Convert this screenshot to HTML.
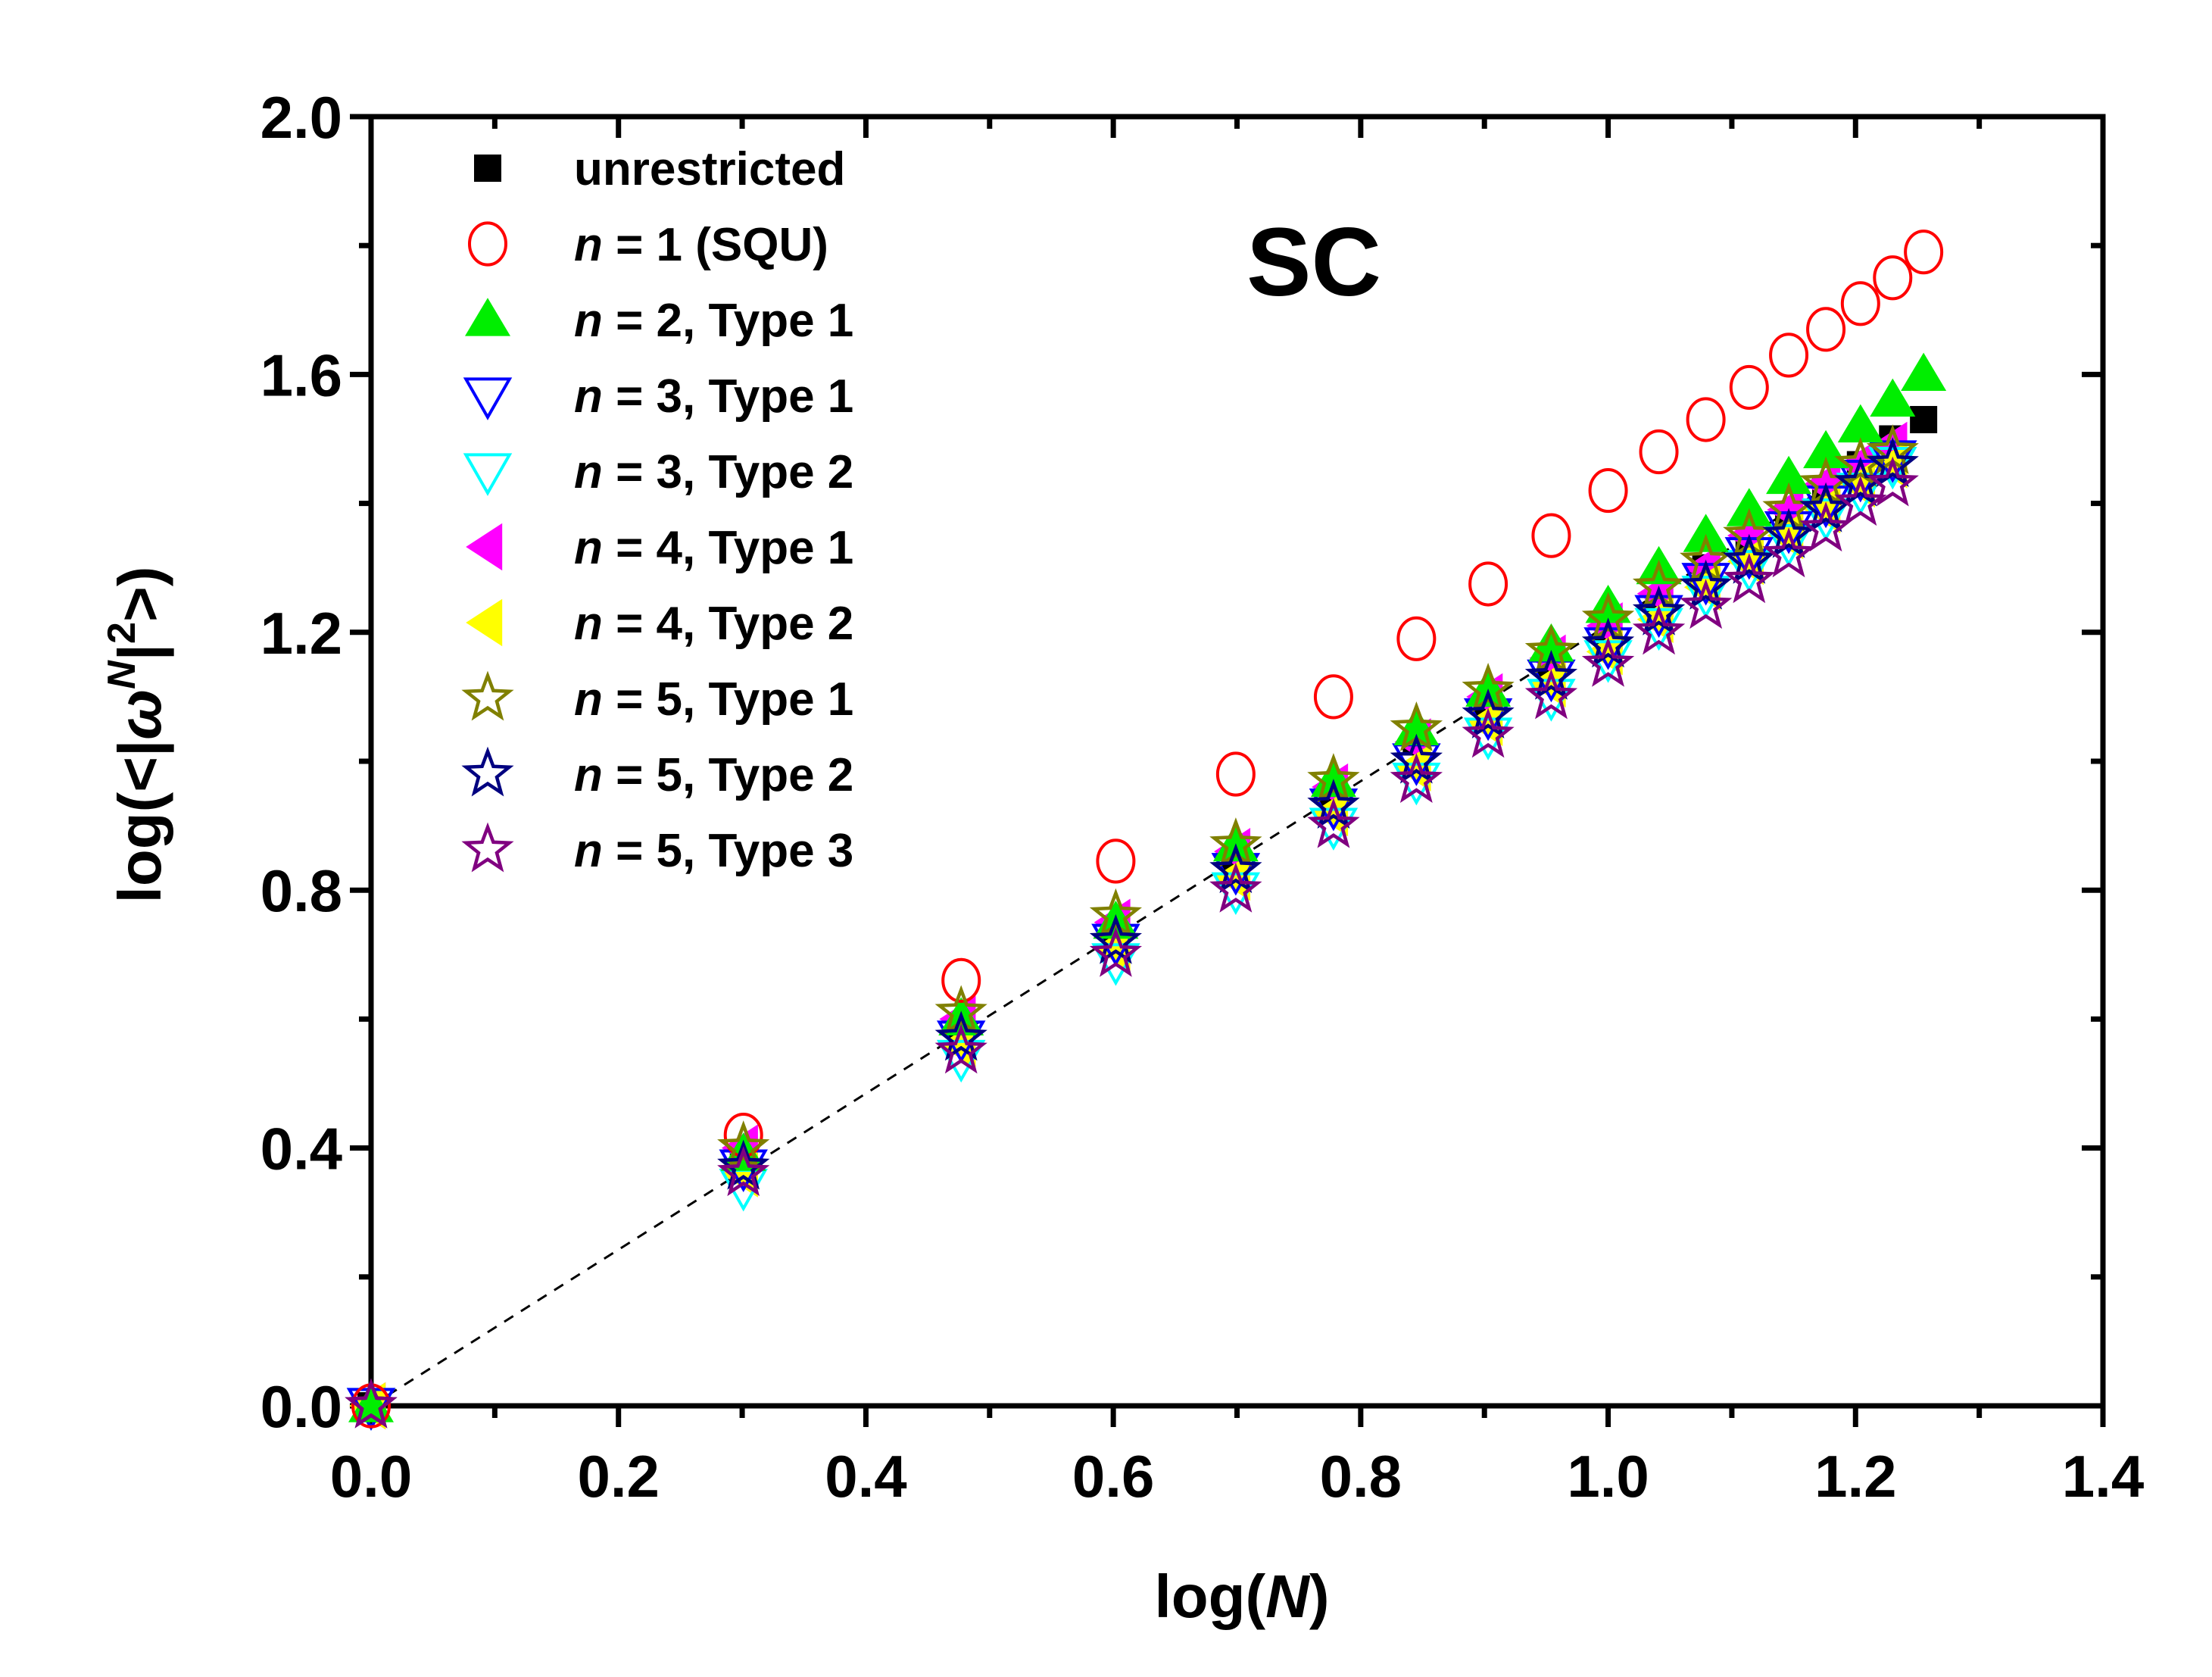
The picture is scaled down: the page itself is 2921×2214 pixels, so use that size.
<!DOCTYPE html>
<html><head><meta charset="utf-8"><style>
html,body{margin:0;padding:0;background:#fff}
svg{display:block}
text{font-family:"Liberation Sans",Arial,sans-serif;font-weight:bold}
</style></head><body>
<svg id="chart" xmlns="http://www.w3.org/2000/svg" width="2921" height="2214" viewBox="0 0 2921 2214">
<g id="grid"></g><g id="marks"></g><g id="legend"></g>
</svg>
<script>
const xVals=[0,0.301,0.477,0.602,0.699,0.778,0.845,0.903,0.954,1.0,1.041,1.079,1.114,1.146,1.176,1.204,1.230,1.255];
const sUnres=[0,0.38,0.58,0.74,0.85,0.95,1.03,1.09,1.15,1.20,1.25,1.30,1.34,1.38,1.42,1.46,1.50,1.53];
const sSqu=[0,0.42,0.66,0.845,0.98,1.10,1.19,1.275,1.35,1.42,1.48,1.53,1.58,1.63,1.67,1.71,1.75,1.79];
const sN2T1=[0,0.39,0.60,0.75,0.87,0.97,1.05,1.11,1.18,1.24,1.30,1.35,1.39,1.44,1.48,1.52,1.56,1.60];
const sN3T1=[0,0.37,0.57,0.72,0.83,0.93,1.00,1.07,1.13,1.18,1.23,1.28,1.32,1.36,1.40,1.44,1.47];
const sN3T2=[0,0.34,0.54,0.69,0.80,0.90,0.97,1.04,1.10,1.16,1.21,1.26,1.30,1.34,1.38,1.42,1.46];
const sN4T1=[0,0.40,0.60,0.75,0.86,0.96,1.03,1.10,1.16,1.21,1.26,1.30,1.35,1.39,1.43,1.46,1.49];
const sN4T2=[0,0.36,0.56,0.71,0.82,0.92,0.99,1.06,1.12,1.17,1.22,1.27,1.31,1.35,1.39,1.43,1.46];
const sN5T1=[0,0.40,0.61,0.76,0.87,0.97,1.05,1.11,1.17,1.22,1.27,1.31,1.35,1.39,1.43,1.46,1.48];
const sN5T2=[0,0.37,0.57,0.72,0.83,0.93,1.00,1.07,1.13,1.18,1.23,1.27,1.31,1.35,1.39,1.43,1.46];
const sN5T3=[0,0.36,0.55,0.70,0.80,0.90,0.97,1.04,1.10,1.15,1.20,1.24,1.28,1.32,1.36,1.40,1.43];
const fitLine=[[0,0],[1.23,1.49]];
const xTicks=["0.0","0.2","0.4","0.6","0.8","1.0","1.2","1.4"];
const yTicks=["0.0","0.4","0.8","1.2","1.6","2.0"];
const NS="http://www.w3.org/2000/svg";
const L=490,R=2777,T=154,B=1856;
const sx=v=>L+(v/1.4)*(R-L), sy=v=>B-(v/2.0)*(B-T);
function mk(tag,attrs,parent){const e=document.createElementNS(NS,tag);for(const k in attrs)e.setAttribute(k,attrs[k]);parent.appendChild(e);return e;}
const grid=document.getElementById('grid'),marks=document.getElementById('marks'),leg=document.getElementById('legend');
const frame=mk('rect',{x:L,y:T,width:R-L,height:B-T,fill:'none',stroke:'#000','stroke-width':7},grid);


for(let i=0;i<=14;i++){const v=i*0.1,x=sx(v),maj=i%2==0,len=maj?28:16;
 const t=mk('line',{x1:x,y1:B,x2:x,y2:B+len,stroke:'#000','stroke-width':7},grid);
 
 
 const t2=mk('line',{x1:x,y1:T,x2:x,y2:T+len,stroke:'#000','stroke-width':7},grid);
 
 }
xTicks.forEach((s,i)=>{const tx=mk('text',{x:sx(i*0.2),y:B+120,'font-size':78,'text-anchor':'middle'},grid);tx.textContent=s;
 
 });
for(let i=0;i<=10;i++){const v=i*0.2,y=sy(v),maj=i%2==0,len=maj?28:16;
 const t=mk('line',{x1:L,y1:y,x2:L-len,y2:y,stroke:'#000','stroke-width':7},grid);
 
 
 const t2=mk('line',{x1:R,y1:y,x2:R-len,y2:y,stroke:'#000','stroke-width':7},grid);
 
 }
yTicks.forEach((s,i)=>{const tx=mk('text',{x:L-38,y:sy(i*0.4)+28,'font-size':78,'text-anchor':'end'},grid);tx.textContent=s;
 
 });
const xt=mk('text',{x:1640,y:2135,'font-size':80,'text-anchor':'middle'},grid);
xt.innerHTML='log(<tspan font-style="italic">N</tspan>)';


const yt=mk('text',{x:0,y:0,'font-size':80,'text-anchor':'middle',transform:'translate(212,970) rotate(-90)'},grid);
yt.innerHTML='log(&lt;|<tspan font-style="italic">ω</tspan><tspan font-size="52" dy="-34" font-style="italic">N</tspan><tspan dy="34">|</tspan><tspan font-size="52" dy="-34">2</tspan><tspan dy="34">&gt;)</tspan>';


const sc=mk('text',{x:1735,y:390,'font-size':128,'text-anchor':'middle'},grid);sc.textContent='SC';


const fl=mk('line',{x1:sx(fitLine[0][0]),y1:sy(fitLine[0][1]),x2:sx(fitLine[1][0]),y2:sy(fitLine[1][1]),stroke:'#000','stroke-width':3,'stroke-dasharray':'14 12'},marks);


function star(cx,cy,r){let p=[];for(let i=0;i<10;i++){const a=-Math.PI/2+i*Math.PI/5,rr=i%2?r*0.42:r;p.push((cx+rr*Math.cos(a)).toFixed(1)+','+(cy+rr*Math.sin(a)).toFixed(1));}return p.join(' ');}
function marker(type,cx,cy,col,parent){const r=24;
 if(type==='square')return mk('rect',{x:cx-18,y:cy-18,width:36,height:36,fill:col},parent);
 if(type==='circle')return mk('ellipse',{cx,cy,rx:r,ry:r*1.15,fill:'none',stroke:col,'stroke-width':4},parent);
 if(type==='up')return mk('polygon',{points:`${cx},${cy-r*1.2} ${cx-r*1.25},${cy+r*0.9} ${cx+r*1.25},${cy+r*0.9}`,fill:col},parent);
 if(type==='down')return mk('polygon',{points:`${cx-r*1.2},${cy-r*0.9} ${cx+r*1.2},${cy-r*0.9} ${cx},${cy+r*1.2}`,fill:'none',stroke:col,'stroke-width':4},parent);
 if(type==='left')return mk('polygon',{points:`${cx-r*1.2},${cy} ${cx+r*0.8},${cy-r*1.3} ${cx+r*0.8},${cy+r*1.3}`,fill:col},parent);
 return mk('polygon',{points:star(cx,cy,r*1.25),fill:'none',stroke:col,'stroke-width':4.5},parent);}
const series=[
 ['unrestricted','square','#000',sUnres,'unrestricted'],
 ['n4t1','left','#ff00ff',sN4T1,'<tspan font-style="italic">n</tspan> = 4, Type 1'],
 ['n4t2','left','#ffff00',sN4T2,'<tspan font-style="italic">n</tspan> = 4, Type 2'],
 ['n3t2','down','#00ffff',sN3T2,'<tspan font-style="italic">n</tspan> = 3, Type 2'],
 ['n3t1','down','#0000ff',sN3T1,'<tspan font-style="italic">n</tspan> = 3, Type 1'],
 ['n2t1','up','#00ee00',sN2T1,'<tspan font-style="italic">n</tspan> = 2, Type 1'],
 ['squ','circle','#ff0000',sSqu,'<tspan font-style="italic">n</tspan> = 1 (SQU)'],
 ['n5t1','star','#808000',sN5T1,'<tspan font-style="italic">n</tspan> = 5, Type 1'],
 ['n5t2','star','#000080',sN5T2,'<tspan font-style="italic">n</tspan> = 5, Type 2'],
 ['n5t3','star','#800080',sN5T3,'<tspan font-style="italic">n</tspan> = 5, Type 3']];
series.forEach(s=>{s[3].forEach((v,i)=>{const m=marker(s[1],sx(xVals[i]),sy(v),s[2],marks);
 
 });});
const order=['unrestricted','squ','n2t1','n3t1','n3t2','n4t1','n4t2','n5t1','n5t2','n5t3'];
order.forEach((k,i)=>{const s=series.find(z=>z[0]===k);const y=222+i*100;
 const m=marker(s[1],644,y,s[2],leg);
 
 
 const t=mk('text',{x:758,y:y+22,'font-size':62},leg);t.innerHTML=s[4];
 
 });
</script>
</body></html>
